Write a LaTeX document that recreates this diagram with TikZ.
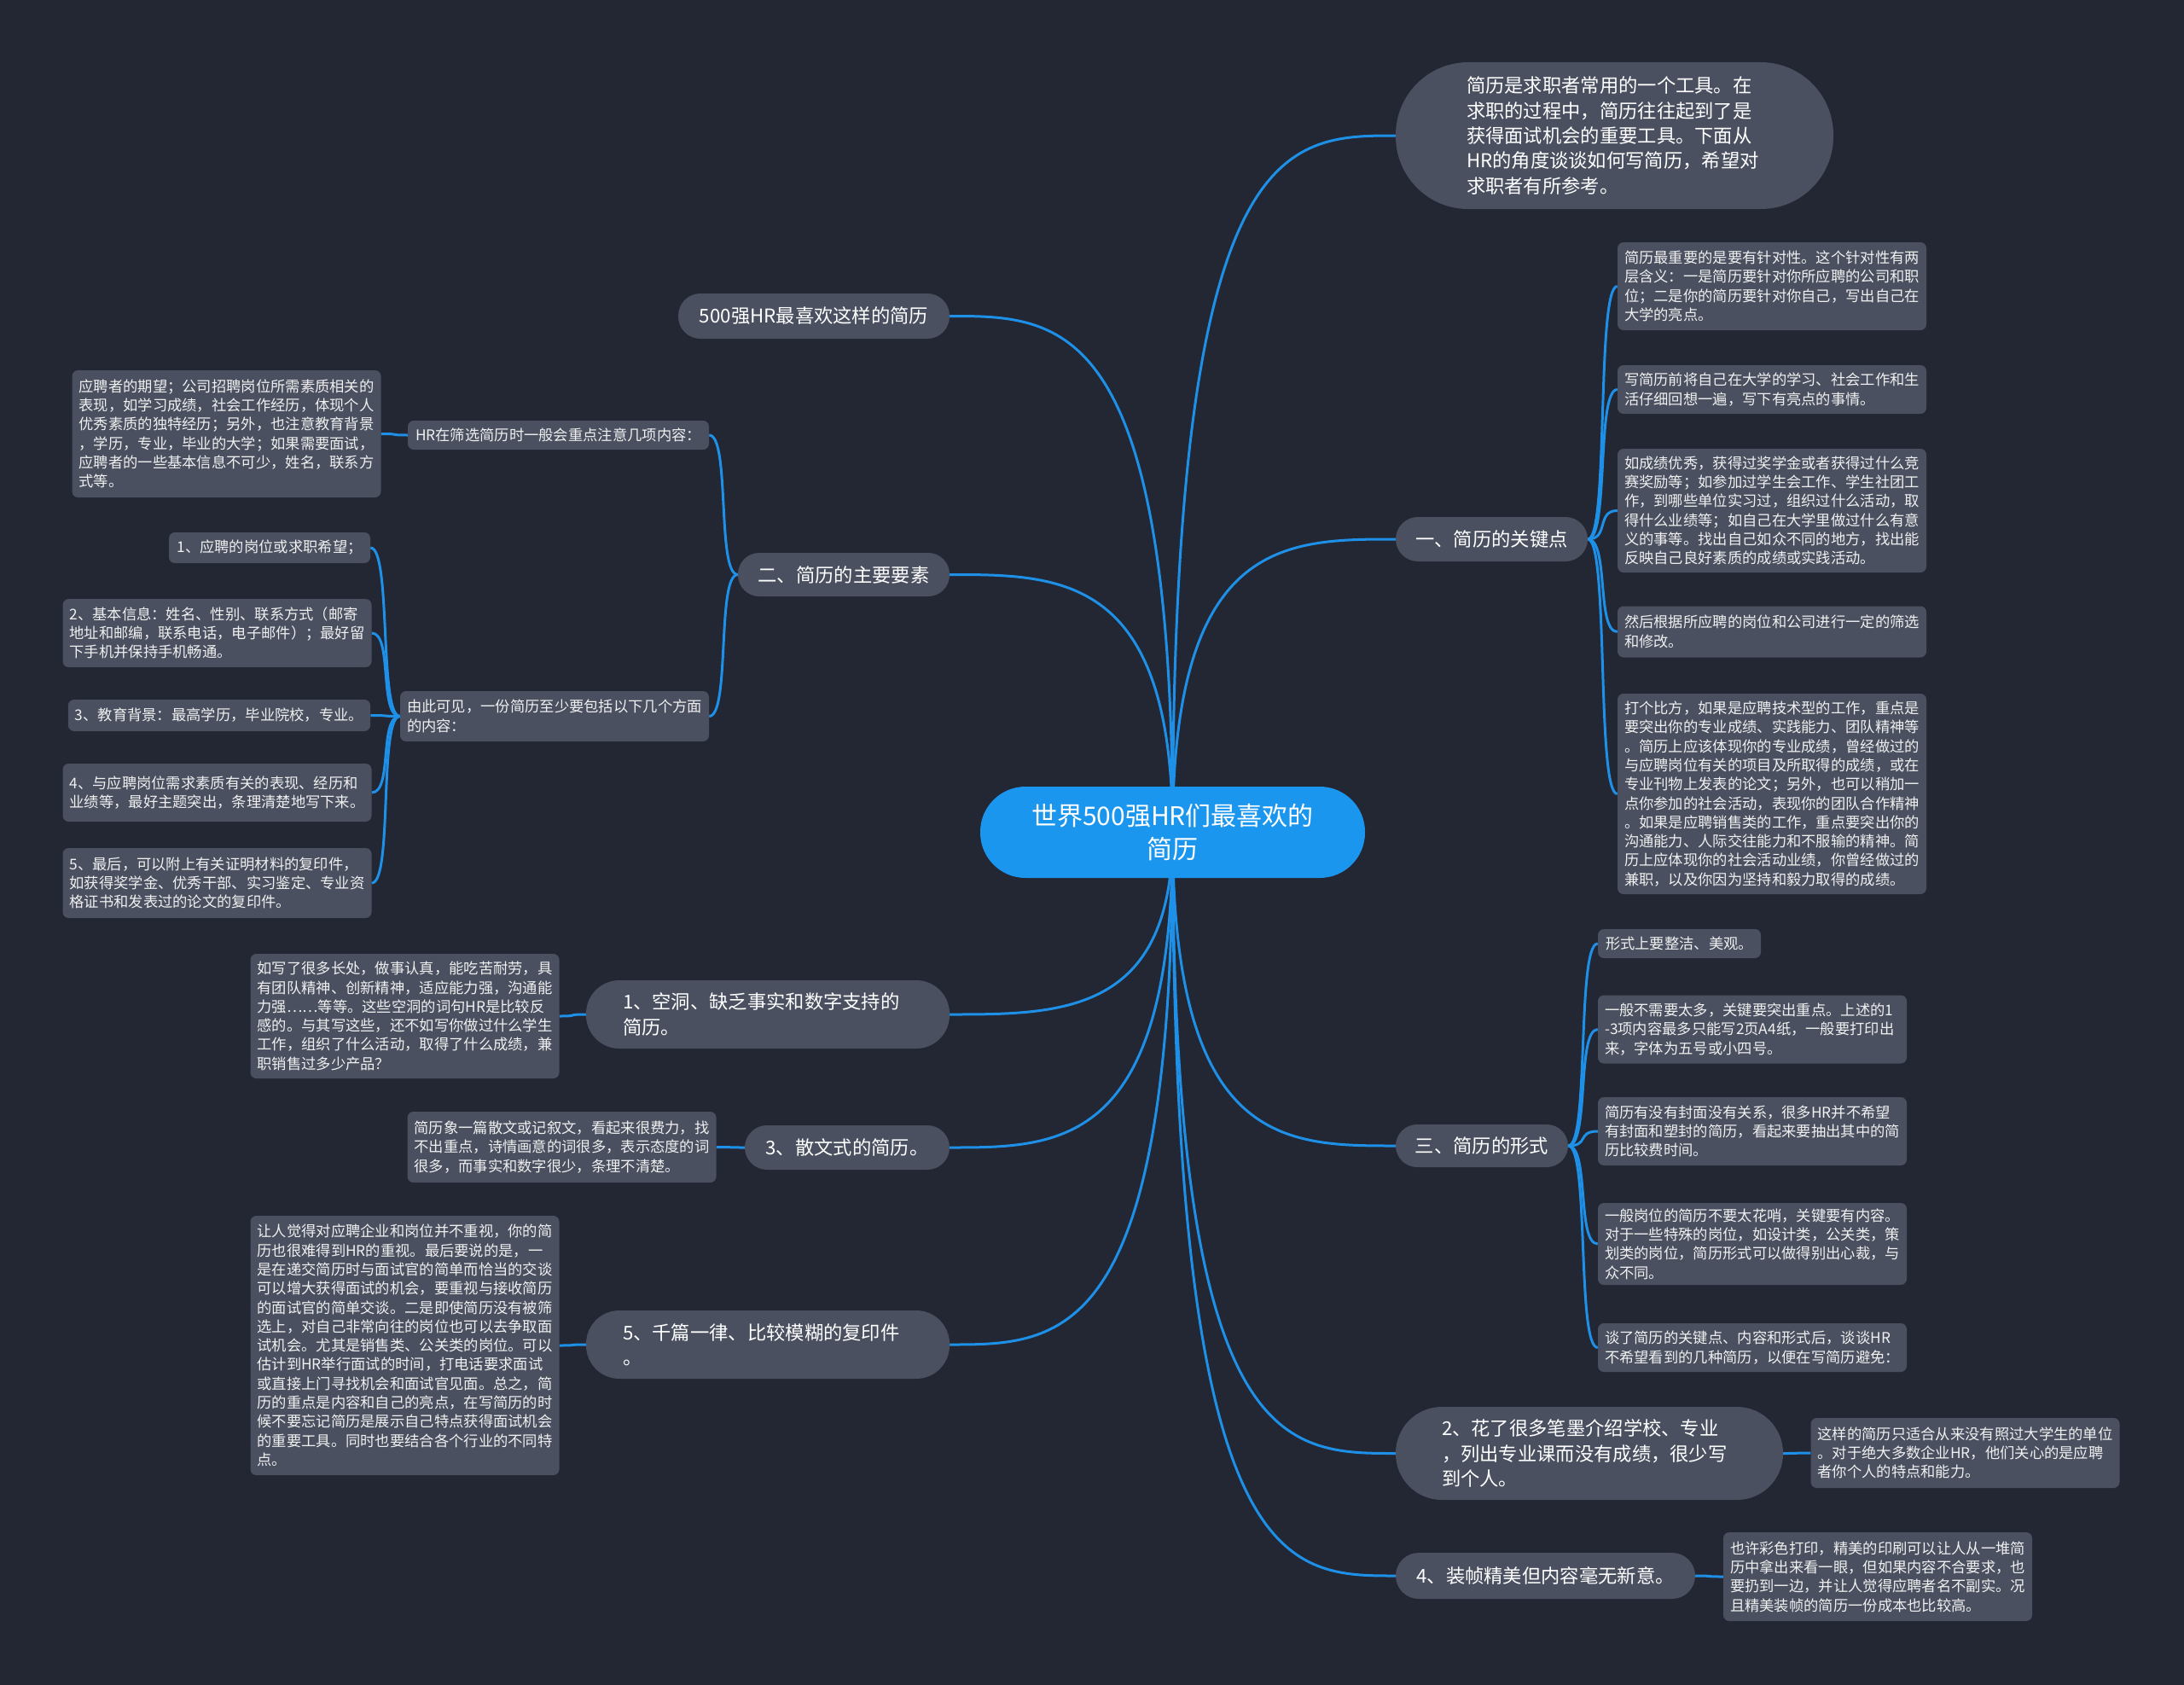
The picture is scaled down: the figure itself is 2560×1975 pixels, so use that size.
\documentclass[tikz,border=0pt]{standalone}
\usepackage{fontspec}
\setmainfont{Noto Sans CJK SC}
\usetikzlibrary{calc}
\definecolor{bgc}{RGB}{35,39,51}
\definecolor{nodec}{RGB}{74,80,96}
\definecolor{centerc}{RGB}{27,150,238}
\definecolor{linec}{RGB}{30,144,232}
\definecolor{txtc}{RGB}{240,240,240}
\pgfdeclarelayer{bg}
\pgfdeclarelayer{edges}
\pgfsetlayers{bg,edges,main}
\tikzset{
  conn/.style={draw=linec, line width=3pt},
  det/.style={fill=nodec, rounded corners=7pt, text=txtc, font=\fontsize{17.3}{22.3}\selectfont, inner xsep=8pt, inner ysep=3pt, align=left},
  detw/.style={det, text width=346pt},
  pill/.style={fill=nodec, rounded corners=#1, text=white, font=\fontsize{22.3}{29.4}\selectfont, inner sep=0pt, align=center},
  rootnode/.style={fill=centerc, rounded corners=53pt, text=white, font=\fontsize{30}{39}\selectfont, inner sep=0pt, align=center, minimum width=451pt, minimum height=107pt}
}
\begin{document}
\begin{tikzpicture}[x=1pt,y=-1pt]
\useasboundingbox (0,0) rectangle (2560,1975);
\begin{pgfonlayer}{bg}
\fill[bgc] (0,0) rectangle (2560,1975);
\end{pgfonlayer}

% root
\node[rootnode] (c) at (1374.5,975.5) {世界500强HR们最喜欢的\\简历};

% right main branches
\node[pill=85pt, align=left, text width=347pt, minimum width=513pt, minimum height=172pt] (intro) at (1892.5,159) {简历是求职者常用的一个工具。在\\求职的过程中，简历往往起到了是\\获得面试机会的重要工具。下面从\\HR的角度谈谈如何写简历，希望对\\求职者有所参考。};
\node[pill=26pt, minimum width=225pt, minimum height=52pt] (r1) at (1748.5,632) {一、简历的关键点};
\node[pill=25pt, minimum width=202pt, minimum height=50pt] (r3) at (1737,1343) {三、简历的形式};
\node[pill=54pt, align=left, text width=346pt, minimum width=454pt, minimum height=109pt] (r2) at (1863,1703.5) {2、花了很多笔墨介绍学校、专业\\，列出专业课而没有成绩，很少写\\到个人。};
\node[pill=27pt, minimum width=351pt, minimum height=54pt] (r4) at (1811.5,1847) {4、装帧精美但内容毫无新意。};

% r1 children
\node[detw, minimum height=103pt] (r1a) at (2077,335.5) {简历最重要的是要有针对性。这个针对性有两\\层含义：一是简历要针对你所应聘的公司和职\\位；二是你的简历要针对你自己，写出自己在\\大学的亮点。};
\node[detw, minimum height=57pt] (r1b) at (2077,456.5) {写简历前将自己在大学的学习、社会工作和生\\活仔细回想一遍，写下有亮点的事情。};
\node[detw, minimum height=145pt] (r1c) at (2077,598.5) {如成绩优秀，获得过奖学金或者获得过什么竞\\赛奖励等；如参加过学生会工作、学生社团工\\作，到哪些单位实习过，组织过什么活动，取\\得什么业绩等；如自己在大学里做过什么有意\\义的事等。找出自己如众不同的地方，找出能\\反映自己良好素质的成绩或实践活动。};
\node[detw, minimum height=60pt] (r1d) at (2077,740.5) {然后根据所应聘的岗位和公司进行一定的筛选\\和修改。};
\node[detw, minimum height=235pt] (r1e) at (2077,930.5) {打个比方，如果是应聘技术型的工作，重点是\\要突出你的专业成绩、实践能力、团队精神等\\。简历上应该体现你的专业成绩，曾经做过的\\与应聘岗位有关的项目及所取得的成绩，或在\\专业刊物上发表的论文；另外，也可以稍加一\\点你参加的社会活动，表现你的团队合作精神\\。如果是应聘销售类的工作，重点要突出你的\\沟通能力、人际交往能力和不服输的精神。简\\历上应体现你的社会活动业绩，你曾经做过的\\兼职，以及你因为坚持和毅力取得的成绩。};

% r3 children
\node[det, minimum width=191pt, minimum height=34pt] (r3a) at (1968.5,1106) {形式上要整洁、美观。};
\node[detw, minimum height=80pt] (r3b) at (2054,1206.5) {一般不需要太多，关键要突出重点。上述的1\\-3项内容最多只能写2页A4纸，一般要打印出\\来，字体为五号或小四号。};
\node[detw, minimum height=80pt] (r3c) at (2054,1326) {简历有没有封面没有关系，很多HR并不希望\\有封面和塑封的简历，看起来要抽出其中的简\\历比较费时间。};
\node[detw, minimum height=96pt] (r3d) at (2054,1458) {一般岗位的简历不要太花哨，关键要有内容。\\对于一些特殊的岗位，如设计类，公关类，策\\划类的岗位，简历形式可以做得别出心裁，与\\众不同。};
\node[detw, minimum height=57pt] (r3e) at (2054,1579.5) {谈了简历的关键点、内容和形式后，谈谈HR\\不希望看到的几种简历，以便在写简历避免：};

% r2, r4 children
\node[detw, minimum height=82pt] (r2a) at (2303.5,1703) {这样的简历只适合从来没有照过大学生的单位\\。对于绝大多数企业HR，他们关心的是应聘\\者你个人的特点和能力。};
\node[detw, minimum height=104pt] (r4a) at (2201,1848) {也许彩色打印，精美的印刷可以让人从一堆简\\历中拿出来看一眼，但如果内容不合要求，也\\要扔到一边，并让人觉得应聘者名不副实。况\\且精美装帧的简历一份成本也比较高。};

% left main branches
\node[pill=26pt, minimum width=318pt, minimum height=53pt] (l0) at (954,370.5) {500强HR最喜欢这样的简历};
\node[pill=25pt, minimum width=248pt, minimum height=51pt] (l2) at (989,673.5) {二、简历的主要要素};
\node[pill=39pt, align=left, text width=340pt, minimum width=426pt, minimum height=80pt] (l1) at (900,1189) {1、空洞、缺乏事实和数字支持的\\简历。};
\node[pill=26pt, minimum width=240pt, minimum height=52pt] (l3) at (993,1345) {3、散文式的简历。};
\node[pill=39pt, align=left, text width=340pt, minimum width=426pt, minimum height=80pt] (l5) at (900,1576) {5、千篇一律、比较模糊的复印件\\。};

% l2 children
\node[det, minimum width=353pt, minimum height=34pt] (hr) at (654.5,510) {HR在筛选简历时一般会重点注意几项内容：};
\node[detw, minimum height=149pt] (hra) at (265.5,508.5) {应聘者的期望；公司招聘岗位所需素质相关的\\表现，如学习成绩，社会工作经历，体现个人\\优秀素质的独特经历；另外，也注意教育背景\\，学历，专业，毕业的大学；如果需要面试，\\应聘者的一些基本信息不可少，姓名，联系方\\式等。};
\node[detw, minimum height=59pt] (yc) at (650,839.5) {由此可见，一份简历至少要包括以下几个方面\\的内容：};
\node[det, minimum width=236pt, minimum height=36pt] (y1) at (316,642) {1、应聘的岗位或求职希望；};
\node[detw, minimum height=80pt] (y2) at (254.5,742) {2、基本信息：姓名、性别、联系方式（邮寄\\地址和邮编，联系电话，电子邮件）；最好留\\下手机并保持手机畅通。};
\node[det, minimum width=354pt, minimum height=37pt] (y3) at (257,838.5) {3、教育背景：最高学历，毕业院校，专业。};
\node[detw, minimum height=68pt] (y4) at (254.5,929) {4、与应聘岗位需求素质有关的表现、经历和\\业绩等，最好主题突出，条理清楚地写下来。};
\node[detw, minimum height=82pt] (y5) at (254.5,1035) {5、最后，可以附上有关证明材料的复印件，\\如获得奖学金、优秀干部、实习鉴定、专业资\\格证书和发表过的论文的复印件。};

% l1, l3, l5 children
\node[detw, minimum height=146pt] (l1a) at (474.5,1191) {如写了很多长处，做事认真，能吃苦耐劳，具\\有团队精神、创新精神，适应能力强，沟通能\\力强……等等。这些空洞的词句HR是比较反\\感的。与其写这些，还不如写你做过什么学生\\工作，组织了什么活动，取得了什么成绩，兼\\职销售过多少产品？};
\node[detw, minimum height=83pt] (l3a) at (658.5,1344.5) {简历象一篇散文或记叙文，看起来很费力，找\\不出重点，诗情画意的词很多，表示态度的词\\很多，而事实和数字很少，条理不清楚。};
\node[detw, minimum height=304pt] (l5a) at (474.5,1577) {让人觉得对应聘企业和岗位并不重视，你的简\\历也很难得到HR的重视。最后要说的是，一\\是在递交简历时与面试官的简单而恰当的交谈\\可以增大获得面试的机会，要重视与接收简历\\的面试官的简单交谈。二是即使简历没有被筛\\选上，对自己非常向往的岗位也可以去争取面\\试机会。尤其是销售类、公关类的岗位。可以\\估计到HR举行面试的时间，打电话要求面试\\或直接上门寻找机会和面试官见面。总之，简\\历的重点是内容和自己的亮点，在写简历的时\\候不要忘记简历是展示自己特点获得面试机会\\的重要工具。同时也要结合各个行业的不同特\\点。};

\begin{pgfonlayer}{edges}
% root to right branches
\foreach \t in {intro,r1,r3,r2,r4}{
  \draw[conn] (c.center) .. controls (c.center |- \t.west) and ($(c.center |- \t.west)!0.5!(\t.west)$) .. (\t.west);
}
% root to left branches
\foreach \t in {l0,l2,l1,l3,l5}{
  \draw[conn] (c.center) .. controls (c.center |- \t.east) and ($(c.center |- \t.east)!0.5!(\t.east)$) .. (\t.east);
}
% right children
\foreach \p/\k in {r1/r1a,r1/r1b,r1/r1c,r1/r1d,r1/r1e,r3/r3a,r3/r3b,r3/r3c,r3/r3d,r3/r3e,r2/r2a,r4/r4a}{
  \draw[conn] (\p.east) .. controls ([xshift=25pt]\p.east) and ([xshift=-25pt]\k.west) .. (\k.west);
}
% left children
\foreach \p/\k in {l2/hr,l2/yc,hr/hra,yc/y1,yc/y2,yc/y3,yc/y4,yc/y5,l1/l1a,l3/l3a,l5/l5a}{
  \draw[conn] (\p.west) .. controls ([xshift=-25pt]\p.west) and ([xshift=25pt]\k.east) .. (\k.east);
}
\end{pgfonlayer}
\end{tikzpicture}
\end{document}
